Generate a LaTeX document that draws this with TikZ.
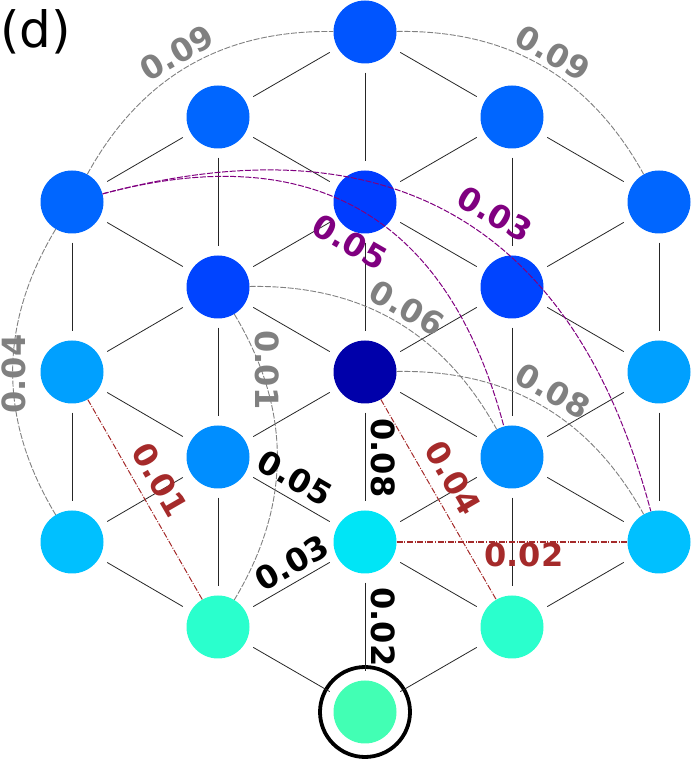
\documentclass[tikz,border=0pt]{standalone}
\usepackage{fontspec}
\setmainfont{DejaVu Sans}
\usetikzlibrary{calc}
\definecolor{cA}{HTML}{0055FF}
\definecolor{cB}{HTML}{0066FF}
\definecolor{cC}{HTML}{003CFF}
\definecolor{cD}{HTML}{0044FF}
\definecolor{cE}{HTML}{0000AA}
\definecolor{cEs}{HTML}{00A0FF}
\definecolor{cF}{HTML}{008EFF}
\definecolor{cG}{HTML}{00C0FF}
\definecolor{cGm}{HTML}{00E5F6}
\definecolor{cH}{HTML}{2AFFCD}
\definecolor{cI}{HTML}{42FFB4}
\definecolor{lgray}{HTML}{808080}
\definecolor{lpurple}{HTML}{800080}
\definecolor{lred}{HTML}{A52A2A}
\begin{document}
\begin{tikzpicture}[x=1pt,y=1pt,
  vtx/.style={circle, minimum size=63pt, inner sep=0pt, draw=none},
  edge/.style={black!85, line width=0.8pt, shorten <=9pt, shorten >=9pt},
  grayarc/.style={draw=lgray, line width=0.9pt, dash pattern=on 6pt off 1.6pt},
  purarc/.style={draw=lpurple, line width=1pt, dash pattern=on 6pt off 1.6pt},
  redline/.style={draw=lred, line width=1pt, dash pattern=on 6pt off 1.6pt on 1pt off 1.6pt},
  lab/.style={font=\fontsize{32}{37}\selectfont\bfseries, inner sep=0pt},
]
\useasboundingbox (0,0) rectangle (692,761);
% nodes
\node[vtx, fill=cA] (A) at (365,729) {};
\node[vtx, fill=cB] (B1) at (218,644) {};
\node[vtx, fill=cB] (B2) at (512,644) {};
\node[vtx, fill=cB] (C1) at (72,559) {};
\node[vtx, fill=cC] (C2) at (365,559) {};
\node[vtx, fill=cB] (C3) at (659,559) {};
\node[vtx, fill=cD] (D1) at (218,474) {};
\node[vtx, fill=cD] (D2) at (512,474) {};
\node[vtx, fill=cEs] (E1) at (72,389) {};
\node[vtx, fill=cE] (E2) at (365,389) {};
\node[vtx, fill=cEs] (E3) at (659,389) {};
\node[vtx, fill=cF] (F1) at (218,304) {};
\node[vtx, fill=cF] (F2) at (512,304) {};
\node[vtx, fill=cG] (G1) at (72,219) {};
\node[vtx, fill=cGm] (G2) at (365,219) {};
\node[vtx, fill=cG] (G3) at (659,219) {};
\node[vtx, fill=cH] (H1) at (218,134) {};
\node[vtx, fill=cH] (H2) at (512,134) {};
\node[vtx, fill=cI] (I) at (365,49) {};
\draw[line width=3.8pt] (I.center) circle (45pt);
% lattice edges
\foreach \a/\b in {A/B1,A/B2,A/C2,B1/C1,B1/C2,B1/D1,B2/C2,B2/C3,B2/D2,
  C1/D1,C1/E1,C2/D1,C2/D2,C2/E2,C3/D2,C3/E3,
  D1/E1,D1/E2,D1/F1,D2/E2,D2/E3,D2/F2,
  E1/F1,E1/G1,E2/F1,E2/F2,E2/G2,E3/F2,E3/G3,
  F1/G1,F1/G2,F1/H1,F2/G2,F2/G3,F2/H2,
  G1/H1,G2/H1,G2/H2,G2/I,G3/H2,H1/I,H2/I}
  \draw[edge] (\a) -- (\b);
% gray arcs
\draw[grayarc] (C1) to[bend left=31] (A);
\draw[grayarc] (A) to[bend left=31] (C3);
\draw[grayarc] (C1) to[bend right=31] (G1);
\draw[grayarc] (D1) to[bend left=31] (H1);
\draw[grayarc] (D1) to[bend left=31] (F2);
\draw[grayarc] (E2) to[bend left=31] (G3);
% purple arcs
\draw[purarc] (C1) to[bend left=45, looseness=1.2] (F2);
\draw[purarc] (C1) to[bend left=45, looseness=1.2] (G3);
% red lines
\draw[redline] (E1) -- (H1);
\draw[redline] (E2) -- (H2);
\draw[redline, line width=1.6pt] (G2) -- (G3);
% labels
\node[lab, text=lgray, rotate=30] (l1) at (177,708) {0.09};
\node[lab, text=lgray, rotate=-30] (l2) at (553,708) {0.09};
\node[lab, text=lgray, rotate=90] (l3) at (14,387) {0.04};
\node[lab, text=lgray, rotate=-90] (l4) at (267,391) {0.01};
\node[lab, text=lgray, rotate=-30] (l5) at (407,453) {0.06};
\node[lab, text=lgray, rotate=-30] (l6) at (553,370) {0.08};
\node[lab, text=lpurple, rotate=-30] (l7) at (350,519) {0.05};
\node[lab, text=lpurple, rotate=-30] (l8) at (495,547) {0.03};
\node[lab, text=lred, rotate=-60] (l9) at (160,281) {0.01};
\node[lab, text=lred, rotate=-60] (l10) at (453,283) {0.04};
\node[lab, text=lred] (l11) at (524,206) {0.02};
\node[lab, rotate=-30] (l12) at (295,283) {0.05};
\node[lab, rotate=30] (l13) at (292,198) {0.03};
\node[lab, rotate=-90] (l14) at (383,303) {0.08};
\node[lab, rotate=-90] (l15) at (383,134) {0.02};
\node[anchor=north west, inner sep=0pt, font=\fontsize{50}{54}\selectfont] (title) at (0,752) {(d)};
\end{tikzpicture}
\end{document}
